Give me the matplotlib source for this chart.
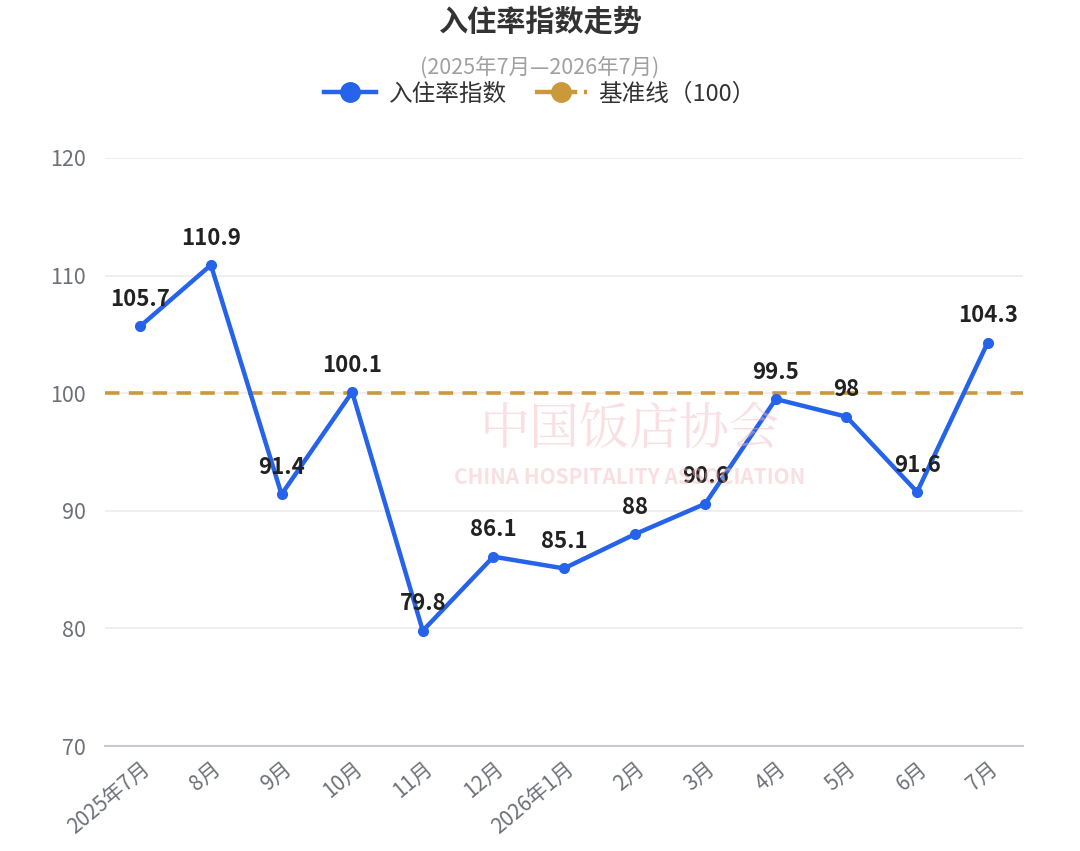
import matplotlib
matplotlib.use("Agg")
import matplotlib.pyplot as plt
from matplotlib.lines import Line2D

plt.rcParams['font.family'] = ['Noto Sans CJK SC', 'DejaVu Sans']

# -----------------------------
# Data
# -----------------------------
months = ["2025年7月", "8月", "9月", "10月", "11月", "12月", "2026年1月",
          "2月", "3月", "4月", "5月", "6月", "7月"]
occupancy_index = [105.7, 110.9, 91.4, 100.1, 79.8, 86.1, 85.1,
                   88, 90.6, 99.5, 98, 91.6, 104.3]
baseline = 100
y_ticks = [70, 80, 90, 100, 110, 120]

blue = "#2563eb"
gold = "#c9993c"

# -----------------------------
# Figure
# -----------------------------
fig = plt.figure(figsize=(10.8, 8.51), dpi=100)
ax = fig.add_axes([105 / 1080, 1 - 746 / 851, 918 / 1080, 588 / 851])

x = list(range(len(months)))
ax.plot(x, occupancy_index, color=blue, linewidth=3.2, marker="o",
        markersize=7, zorder=4, solid_joinstyle="miter")
ax.axhline(baseline, color=gold, linewidth=2.6, linestyle=(0, (4, 2.6)), zorder=3)

for xi, v in zip(x, occupancy_index):
    label = f"{v:g}"
    ax.annotate(label, (xi, v), xytext=(0, 11), textcoords="offset points",
                ha="center", va="bottom", fontsize=16, fontweight="bold",
                color="#222222", zorder=5)

ax.set_xlim(-0.5, len(months) - 0.5)
ax.set_ylim(70, 120)
ax.set_yticks(y_ticks)
ax.set_yticklabels([str(t) for t in y_ticks], fontsize=15.5, color="#6e7079")
ax.set_xticks(x)
ax.set_xticklabels(months, rotation=40, ha="right", rotation_mode="anchor",
                   fontsize=15, color="#6e7079")
ax.tick_params(axis="both", length=0)
ax.tick_params(axis="y", pad=14)
ax.tick_params(axis="x", pad=8)

ax.grid(axis="y", color="#ececec", linewidth=1.2, zorder=0)
for side in ["top", "right", "left"]:
    ax.spines[side].set_visible(False)
ax.spines["bottom"].set_color("#c8c9cf")
ax.spines["bottom"].set_linewidth(1.5)

# watermark
fig.text(630 / 1080, 1 - 430 / 851, "中国饭店协会", fontsize=36, color="#f2b8c0",
         alpha=0.45, ha="center", va="center",
         family=["Noto Serif CJK SC", "Noto Sans CJK SC"])
fig.text(630 / 1080, 1 - 478 / 851, "CHINA HOSPITALITY ASSOCIATION", fontsize=15,
         fontweight="bold", color="#f2b8c0", alpha=0.45, ha="center", va="center")

# -----------------------------
# Titles and legend
# -----------------------------
fig.text(0.5, 1 - 22 / 851, "入住率指数走势", fontsize=21, fontweight="bold",
         color="#333333", ha="center", va="center")
fig.text(0.5, 1 - 68 / 851, "(2025年7月—2026年7月)", fontsize=15.5,
         color="#a0a0a0", ha="center", va="center")

handles = [
    Line2D([0], [0], color=blue, linewidth=3.2, marker="o", markersize=14),
    Line2D([0], [0], color=gold, linewidth=3.2, linestyle=(0, (4, 1.5)),
           marker="o", markersize=14),
]
fig.legend(handles, ["入住率指数", "基准线（100）"], loc="center",
           bbox_to_anchor=(0.5, 1 - 94 / 851), ncol=2, frameon=False,
           fontsize=17, handlelength=2.2, columnspacing=1.2, handletextpad=0.5,
           labelcolor="#333333")

fig.savefig("out.png", dpi=100)
